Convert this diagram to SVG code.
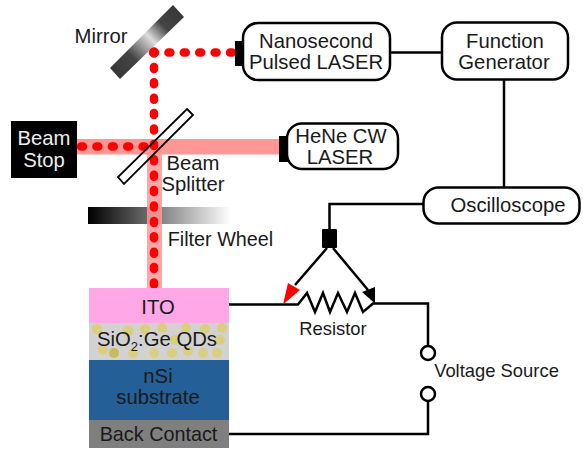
<svg xmlns="http://www.w3.org/2000/svg" width="583" height="450" viewBox="0 0 583 450">
<style>
text{font-family:"Liberation Sans",Arial,sans-serif;font-size:20.3px;fill:#1a1a1a;text-anchor:middle}
.small{font-size:18.4px}
.box{fill:#fff;stroke:#000;stroke-width:2.5}
.w{fill:none;stroke:#000;stroke-width:2.5}
.dot{fill:none;stroke:#f00;stroke-width:8.500;stroke-linecap:round;stroke-dasharray:2 13.400}
.beam{fill:#ff9797}
.qd{fill:#d9cf7e}
</style>
<defs>
<linearGradient id="mg" x1="0" y1="1" x2="1" y2="0"><stop offset="0" stop-color="#333"/><stop offset=".3" stop-color="#444"/><stop offset=".55" stop-color="#ddd"/><stop offset=".72" stop-color="#444"/><stop offset="1" stop-color="#333"/></linearGradient>
<linearGradient id="fw"><stop offset="0" stop-color="#000"/><stop offset="1" stop-color="#fff"/></linearGradient>
</defs>
<g id="mirror"><polygon points="173,5 184,17 120,79 110,68" fill="url(#mg)"/><text x="101" y="43">Mirror</text></g>
<g id="filter-wheel"><rect x="88" y="207" width="143" height="17" fill="url(#fw)"/><text x="220.500" y="246" style="font-size:19.800px">Filter Wheel</text></g>
<g id="beams">
<rect class="beam" x="77" y="139" width="202" height="15.500"/>
<rect class="beam" x="147" y="154" width="15" height="134" opacity=".85"/>
<path class="dot" d="M81 146.500H150"/>
<path class="dot" d="M232 52.500H153"/>
<path class="dot" d="M154 51.500V288"/>
</g>
<g id="beam-splitter"><polygon points="187,109 193,115 124,184 118,177" fill="none" stroke="#000" stroke-width="1.800"/><text x="193" y="170">Beam</text><text x="193" y="191">Splitter</text></g>
<g id="beam-stop"><rect x="11" y="121" width="66" height="57" fill="#000"/><text x="44" y="145" style="fill:#eee">Beam</text><text x="44" y="167" style="fill:#eee">Stop</text></g>
<g id="nanosecond-laser"><rect x="235" y="41" width="10" height="25" fill="#000"/><rect class="box" x="243" y="23" width="147" height="57" rx="15"/><text x="316" y="48">Nanosecond</text><text x="316" y="69">Pulsed LASER</text></g>
<g id="function-generator"><rect class="box" x="442" y="22.500" width="126" height="57" rx="15"/><text x="505" y="48">Function</text><text x="504" y="69">Generator</text></g>
<g id="hene-laser"><rect x="279" y="136" width="10" height="26" fill="#000"/><rect class="box" x="287" y="123.500" width="111" height="45.500" rx="15"/><text x="341" y="143">HeNe CW</text><text x="340" y="164">LASER</text></g>
<g id="oscilloscope"><rect class="box" x="423.500" y="187.500" width="156" height="36" rx="15"/><text x="508" y="212">Oscilloscope</text></g>
<g id="probe"><rect x="322" y="229" width="15" height="19" rx="1" fill="#000"/></g>
<g id="stack">
<rect x="89" y="288" width="140" height="36" fill="#ffa7e7"/>
<rect x="89" y="323" width="140" height="37" fill="#d2d2d2"/>
<g class="qd"><circle cx="97" cy="329" r="5"/><circle cx="128" cy="331" r="5.500"/><circle cx="145" cy="329" r="5"/><circle cx="162" cy="328" r="5"/><circle cx="186" cy="328" r="5"/><circle cx="205" cy="329" r="5"/><circle cx="222" cy="328" r="5"/><circle cx="103" cy="350" r="5"/><circle cx="114" cy="353" r="5" fill="#c9bb55"/><circle cx="133" cy="353" r="5"/><circle cx="154" cy="353" r="5"/><circle cx="172" cy="353" r="5"/><circle cx="188" cy="351" r="5"/><circle cx="203" cy="353" r="5"/><circle cx="217" cy="353" r="5"/><circle cx="175" cy="340" r="5"/><circle cx="220" cy="340" r="5"/></g>
<rect x="89" y="360" width="140" height="60.500" fill="#255f97"/>
<rect x="89" y="420" width="140" height="28" fill="#7f7f7f"/>
<text x="158" y="314">ITO</text>
<text x="157" y="346">SiO<tspan font-size="13" dy="5">2</tspan><tspan dy="-5">:Ge QDs</tspan></text>
<text x="158" y="383">nSi</text>
<text x="158" y="404">substrate</text>
<text x="158.500" y="441" style="font-size:19.800px">Back Contact</text>
</g>
<g id="connectors">
<path class="w" d="M390 52.500H442M504 79V187.500M423 204H329.500V229"/>
<path class="w" d="M229 304.500H298L307 293 315 312 323 293 330 312 338 293 347 312 355 293 363 312 373 303.500H428V346M428 401V434H229"/>
<path class="w" d="M327 248L295 285M333 248L368 290"/>
<polygon points="283,304.500 288,283 300,290" fill="#f00"/>
<polygon points="375,303.500 362,292 375,287" fill="#000"/>
<circle class="box" cx="428" cy="353" r="7"/><circle class="box" cx="428" cy="394" r="7"/>
</g>
<text class="small" x="333" y="335">Resistor</text>
<text class="small" x="496.500" y="377">Voltage Source</text>
</svg>
